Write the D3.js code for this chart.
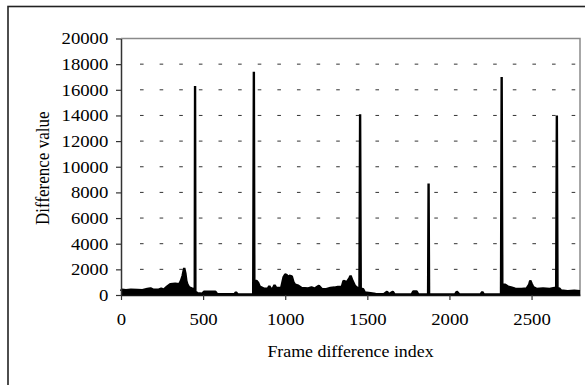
<!DOCTYPE html>
<html>
<head>
<meta charset="utf-8">
<script src="https://cdn.jsdelivr.net/npm/d3@7"></script>
<style>
  html, body { margin: 0; padding: 0; background: #fff; }
  svg { display: block; }
  text { font-family: "Liberation Serif", "Times New Roman", serif; fill: #000; }
</style>
</head>
<body>
<svg id="chart" width="585" height="385"></svg>
<script>
// Frame-difference signal: sampled frame indices and their difference values
const frameIdx = [
  0, 5, 30, 60, 100, 130, 160, 180, 195, 230, 245, 260, 280, 300, 330, 355, 365, 375, 385, 392,
  398, 405, 415, 430, 445, 449, 451, 453, 465, 495, 505, 540, 575, 585, 640, 690, 700, 710, 760, 805,
  809, 812, 825, 835, 845, 870, 895, 903, 912, 925, 935, 945, 975, 990, 1000, 1010, 1018, 1025, 1040, 1050,
  1060, 1080, 1100, 1140, 1160, 1180, 1205, 1222, 1250, 1275, 1300, 1320, 1345, 1355, 1375, 1390, 1398, 1410, 1425, 1440,
  1452, 1456, 1460, 1475, 1485, 1520, 1550, 1600, 1620, 1630, 1655, 1665, 1700, 1770, 1780, 1800, 1810, 1870, 1873, 1876,
  1950, 2035, 2045, 2060, 2150, 2190, 2200, 2210, 2314, 2318, 2322, 2340, 2358, 2375, 2400, 2440, 2470, 2485, 2492, 2500,
  2510, 2530, 2570, 2610, 2640, 2650, 2654, 2658, 2670, 2680, 2720, 2760, 2795
];
const diffVal = [
  300, 420, 380, 420, 400, 380, 470, 520, 420, 420, 500, 420, 650, 850, 880, 850, 1100, 1500, 2100, 1700,
  1100, 800, 600, 520, 450, 300, 16300, 250, 150, 100, 250, 260, 250, 80, 60, 60, 220, 60, 50, 50,
  17400, 1100, 1100, 950, 650, 500, 520, 700, 500, 520, 780, 550, 550, 1400, 1600, 1550, 1250, 1500, 1450, 1000,
  800, 720, 550, 520, 600, 500, 720, 480, 450, 550, 580, 620, 650, 1100, 1000, 1300, 1500, 1100, 700, 550,
  500, 14100, 500, 450, 200, 150, 80, 60, 250, 60, 250, 60, 50, 60, 280, 280, 60, 50, 8700, 50,
  50, 60, 260, 60, 50, 60, 230, 50, 50, 17000, 800, 800, 650, 600, 500, 480, 520, 800, 1130, 900,
  620, 480, 520, 480, 550, 500, 14000, 550, 500, 350, 300, 330, 300
];
const xTicks = [0, 500, 1000, 1500, 2000, 2500];
const yTicks = [0, 2000, 4000, 6000, 8000, 10000, 12000, 14000, 16000, 18000, 20000];
const xTitle = "Frame difference index";
const yTitle = "Difference value";

const points = frameIdx.map((f, i) => ({ f, v: diffVal[i] }));

const svg = d3.select("#chart");
const plotL = 121, plotR = 580, plotT = 38.5, plotB = 295;
const tickStretch = 1.17, titleStretch = 1.05;

const x = d3.scaleLinear().domain([0, 2795]).range([plotL, plotR]);
const y = d3.scaleLinear().domain([0, 20000]).range([plotB, plotT]);

// outer chart frame (runs off the right and bottom edges)
svg.append("rect")
  .attr("x", 8).attr("y", 6.5)
  .attr("width", 640).attr("height", 420)
  .attr("fill", "#fff").attr("stroke", "#222").attr("stroke-width", 1.6);

// dashed horizontal gridlines
svg.append("g").selectAll("line")
  .data(yTicks.filter(t => t > 0 && t < 20000))
  .join("line")
  .attr("x1", 124).attr("x2", plotR)
  .attr("y1", d => y(d)).attr("y2", d => y(d))
  .attr("stroke", "#333").attr("stroke-width", 1)
  .attr("stroke-dasharray", "3.6,16.02")
  .attr("stroke-dashoffset", 3.62);

// plot area border (top and right)
svg.append("path")
  .attr("d", `M${plotL},${plotT}H${plotR}V${plotB}`)
  .attr("fill", "none").attr("stroke", "#8a8a8a").attr("stroke-width", 1.5);

// signal: filled envelope plus line
svg.append("path")
  .datum(points)
  .attr("d", d3.area().x(d => x(d.f)).y0(y(0)).y1(d => y(d.v)))
  .attr("fill", "#000");
svg.append("path")
  .datum(points)
  .attr("d", d3.line().x(d => x(d.f)).y(d => y(d.v)))
  .attr("fill", "none").attr("stroke", "#000").attr("stroke-width", 2.4)
  .attr("stroke-linejoin", "bevel");

// y axis
const yAxis = svg.append("g")
  .attr("transform", `translate(${plotL},0)`)
  .call(d3.axisLeft(y).tickValues(yTicks).tickFormat(d3.format("d")).tickSize(5).tickSizeOuter(0));
yAxis.select(".domain").attr("stroke", "#333").attr("stroke-width", 1.5);
yAxis.selectAll(".tick line").attr("stroke", "#333").attr("stroke-width", 1.2);
yAxis.selectAll(".tick text")
  .attr("x", -12.7 / tickStretch).attr("dy", "0.34em")
  .attr("transform", `scale(${tickStretch},1)`)
  .style("font-size", "16px").attr("font-family", null);

// x axis
const xAxis = svg.append("g")
  .attr("transform", `translate(0,${plotB})`)
  .call(d3.axisBottom(x).tickValues(xTicks).tickFormat(d3.format("d")).tickSize(5).tickSizeOuter(0));
xAxis.select(".domain").attr("stroke", "#111").attr("stroke-width", 1.5);
xAxis.selectAll(".tick line").attr("stroke", "#333").attr("stroke-width", 1.2);
xAxis.selectAll(".tick text")
  .attr("y", 30).attr("dy", 0)
  .attr("transform", `scale(${tickStretch},1)`)
  .style("font-size", "16px").attr("font-family", null);

// axis titles
svg.append("text")
  .attr("transform", `translate(${(plotL + plotR) / 2},357) scale(${titleStretch},1)`)
  .attr("text-anchor", "middle")
  .style("font-size", "17px")
  .text(xTitle);
svg.append("text")
  .attr("transform", `translate(48.5,${(plotT + plotB) / 2 + 1.5}) scale(${titleStretch},1) rotate(-90)`)
  .attr("text-anchor", "middle")
  .style("font-size", "17px")
  .text(yTitle);
</script>
</body>
</html>
